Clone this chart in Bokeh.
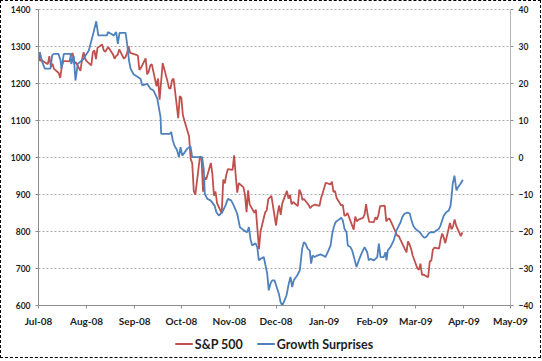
import pandas as pd
from bokeh.plotting import figure
from bokeh.layouts import column
from bokeh.models import (Range1d, LinearAxis, FixedTicker, DatetimeTickFormatter,
                          Legend, LegendItem, ColumnDataSource)
from bokeh.embed import file_html
from bokeh.resources import INLINE

# ---------------- data ----------------
month_ticks = ["2008-07-01", "2008-08-01", "2008-09-01", "2008-10-01", "2008-11-01",
               "2008-12-01", "2009-01-01", "2009-02-01", "2009-03-01", "2009-04-01",
               "2009-05-01"]
left_ticks = [600, 700, 800, 900, 1000, 1100, 1200, 1300, 1400]
right_ticks = [-40, -30, -20, -10, 0, 10, 20, 30, 40]
series_names = ["S&P 500", "Growth Surprises"]

sp_dates = [
    "2008-07-01", "2008-07-02", "2008-07-03", "2008-07-07", "2008-07-08", "2008-07-09", "2008-07-10",
    "2008-07-11", "2008-07-14", "2008-07-15", "2008-07-16", "2008-07-17", "2008-07-18", "2008-07-21",
    "2008-07-22", "2008-07-23", "2008-07-24", "2008-07-25", "2008-07-28", "2008-07-29", "2008-07-30",
    "2008-07-31",
    "2008-08-01", "2008-08-04", "2008-08-05", "2008-08-06", "2008-08-07", "2008-08-08", "2008-08-11",
    "2008-08-12", "2008-08-13", "2008-08-14", "2008-08-15", "2008-08-18", "2008-08-19", "2008-08-20",
    "2008-08-21", "2008-08-22", "2008-08-25", "2008-08-26", "2008-08-27", "2008-08-28", "2008-08-29",
    "2008-09-02", "2008-09-03", "2008-09-04", "2008-09-05", "2008-09-08", "2008-09-09", "2008-09-10",
    "2008-09-11", "2008-09-12", "2008-09-15", "2008-09-16", "2008-09-17", "2008-09-18", "2008-09-19",
    "2008-09-22", "2008-09-23", "2008-09-24", "2008-09-25", "2008-09-26", "2008-09-29", "2008-09-30",
    "2008-10-01", "2008-10-02", "2008-10-03", "2008-10-06", "2008-10-07", "2008-10-08", "2008-10-09",
    "2008-10-10", "2008-10-13", "2008-10-14", "2008-10-15", "2008-10-16", "2008-10-17", "2008-10-20",
    "2008-10-21", "2008-10-22", "2008-10-23", "2008-10-24", "2008-10-27", "2008-10-28", "2008-10-29",
    "2008-10-30", "2008-10-31",
    "2008-11-03", "2008-11-04", "2008-11-05", "2008-11-06", "2008-11-07", "2008-11-10", "2008-11-11",
    "2008-11-12", "2008-11-13", "2008-11-14", "2008-11-17", "2008-11-18", "2008-11-19", "2008-11-20",
    "2008-11-21", "2008-11-24", "2008-11-25", "2008-11-26", "2008-11-28",
    "2008-12-01", "2008-12-02", "2008-12-03", "2008-12-04", "2008-12-05", "2008-12-08", "2008-12-09",
    "2008-12-10", "2008-12-11", "2008-12-12", "2008-12-15", "2008-12-16", "2008-12-17", "2008-12-18",
    "2008-12-19", "2008-12-22", "2008-12-23", "2008-12-24", "2008-12-26", "2008-12-29", "2008-12-30",
    "2008-12-31",
    "2009-01-02", "2009-01-05", "2009-01-06", "2009-01-07", "2009-01-08", "2009-01-09", "2009-01-12",
    "2009-01-13", "2009-01-14", "2009-01-15", "2009-01-16", "2009-01-20", "2009-01-21", "2009-01-22",
    "2009-01-23", "2009-01-26", "2009-01-27", "2009-01-28", "2009-01-29", "2009-01-30",
    "2009-02-02", "2009-02-03", "2009-02-04", "2009-02-05", "2009-02-06", "2009-02-09", "2009-02-10",
    "2009-02-11", "2009-02-12", "2009-02-13", "2009-02-17", "2009-02-18", "2009-02-19", "2009-02-20",
    "2009-02-23", "2009-02-24", "2009-02-25", "2009-02-26", "2009-02-27",
    "2009-03-02", "2009-03-03", "2009-03-04", "2009-03-05", "2009-03-06", "2009-03-09", "2009-03-10",
    "2009-03-11", "2009-03-12", "2009-03-13", "2009-03-16", "2009-03-17", "2009-03-18", "2009-03-19",
    "2009-03-20", "2009-03-23", "2009-03-24", "2009-03-25", "2009-03-26", "2009-03-27", "2009-03-30",
    "2009-03-31",
]
sp_close = [
    1284.91, 1261.52, 1262.90, 1252.31, 1273.70, 1244.69, 1253.39, 1239.49, 1228.30, 1214.91, 1245.36,
    1260.32, 1260.68, 1260.00, 1277.00, 1282.19, 1252.54, 1257.76, 1234.37, 1263.20, 1284.26, 1267.38,
    1260.31, 1249.01, 1284.88, 1289.19, 1266.07, 1296.32, 1305.32, 1289.59, 1285.83, 1292.93, 1298.20,
    1278.60, 1266.69, 1274.54, 1277.72, 1292.20, 1266.84, 1271.51, 1281.66, 1300.68, 1282.83,
    1277.58, 1274.98, 1236.83, 1242.31, 1267.79, 1224.51, 1232.04, 1249.05, 1251.70, 1192.70, 1213.60,
    1156.39, 1206.51, 1255.08, 1207.09, 1188.22, 1185.87, 1209.18, 1213.27, 1106.42, 1166.36,
    1161.06, 1114.28, 1099.23, 1056.89, 996.23, 984.94, 909.92, 899.22, 1003.35, 998.01, 907.84,
    946.43, 940.55, 985.40, 955.05, 896.78, 908.11, 876.77, 848.92, 940.51, 930.09, 954.09, 968.75,
    966.30, 1005.75, 952.77, 904.88, 930.99, 919.21, 898.95, 852.30, 911.29, 873.29, 850.75, 859.12,
    806.58, 752.44, 800.03, 851.81, 857.39, 887.68, 896.24,
    816.21, 848.81, 870.74, 845.22, 876.07, 909.70, 888.67, 899.24, 873.59, 879.73, 868.57, 913.18,
    904.42, 885.28, 887.88, 871.63, 863.16, 868.15, 872.80, 869.42, 890.64, 903.25,
    931.80, 927.45, 934.70, 906.65, 909.73, 890.35, 870.26, 871.79, 842.62, 843.74, 850.12, 805.22,
    840.24, 827.50, 831.95, 836.57, 845.71, 874.09, 845.14, 825.88,
    825.44, 838.51, 832.23, 845.85, 868.60, 869.89, 827.16, 833.74, 835.19, 826.84, 789.17, 788.42,
    778.94, 770.05, 743.33, 773.14, 764.90, 752.83, 735.09,
    700.82, 696.33, 712.87, 682.55, 683.38, 676.53, 719.60, 721.36, 750.74, 756.55, 753.89, 778.12,
    794.35, 784.04, 768.54, 822.92, 806.12, 813.88, 832.86, 815.94, 787.53, 797.87,
]

# Growth Surprises: days elapsed since 2008-07-01, and index value (right axis)
gs_start = "2008-07-01"
gs_day = [
    0.8, 2.4, 4.1, 7.7, 8.8, 9.9, 12.9, 14.2, 14.8, 16.3, 20.6, 21.1, 22.7, 23.8, 25.3, 29.2, 30.3,
    32.4, 33.5, 35.2, 37.2, 38.5, 44.2, 44.6, 48.5, 50.0, 51.1, 52.2, 56.1, 57.3, 58.3, 59.3, 61.2,
    65.7, 66.8, 70.0, 72.1, 74.1, 76.5, 78.6, 79.0, 84.6, 85.5, 86.5, 87.6, 89.3, 90.4, 91.5, 92.6,
    95.8, 97.9, 99.0, 105.4, 106.5, 107.1, 108.7, 110.8, 113.4, 114.6, 116.1, 118.3, 120.4, 121.9,
    124.1, 125.8, 128.0, 129.7, 132.2, 134.4, 135.5, 136.5, 137.6, 139.8, 140.9, 141.9, 143.0, 145.1,
    147.3, 148.3, 149.4, 150.5, 152.0, 154.8, 155.9, 157.0, 158.0, 159.7, 161.2, 162.3, 163.4, 164.4,
    166.6, 168.3, 169.8, 170.9, 172.0, 173.4, 174.7, 175.6, 176.5, 177.8, 179.5, 181.6, 183.4, 184.8,
    186.3, 188.1, 189.2, 190.2, 191.3, 193.4, 195.0, 196.0, 197.1, 198.4, 199.2, 200.9, 202.0, 203.5,
    204.8, 206.3, 208.0, 210.0, 211.7, 212.7, 213.8, 216.0, 218.2, 219.2, 220.3, 222.4, 223.5, 224.1,
    225.0, 226.7, 228.8, 230.6, 232.1, 233.2, 234.3, 235.7, 237.5, 239.1, 240.0, 241.3, 242.8, 245.6,
    247.1, 248.6, 249.9, 251.4, 252.5, 254.6, 256.3, 257.8, 258.9, 260.0, 261.0, 262.6, 264.3, 265.4,
    266.0, 266.8, 267.9, 269.2, 270.3, 271.8, 273.3,
]
gs_value = [
    28.5, 25.8, 24.0, 24.0, 27.6, 28.0, 28.0, 26.2, 24.0, 28.0, 28.0, 25.3, 27.5, 20.8, 25.3, 26.7, 27.6,
    28.9, 30.7, 33.4, 36.8, 33.0, 33.0, 33.9, 33.0, 33.9, 30.7, 33.7, 33.7, 30.0, 26.2, 24.0, 22.5,
    21.3, 19.5, 19.9, 18.6, 18.1, 15.9, 10.9, 6.4, 6.4, 6.9, 4.6, 3.2, 1.9, 0.1, 2.8, 0.5,
    2.4, 3.0, 0.1, 0.1, -3.5, -9.8, -11.2, -11.6, -13.0, -14.8, -15.7, -14.8, -13.0, -11.2,
    -11.6, -13.0, -15.2, -18.8, -19.7, -20.2, -18.8, -22.0, -23.8, -23.2, -24.2, -27.8, -27.4, -26.9,
    -31.4, -35.9, -34.1, -33.2, -33.2, -36.8, -39.1, -40.0, -39.1, -37.3, -34.1, -32.3, -35.0, -33.2,
    -31.9, -30.5, -24.7, -22.9, -23.3, -24.7, -25.1, -28.7, -26.5, -26.9, -26.5, -26.2, -26.5, -26.9,
    -25.6, -23.8, -20.6, -18.8, -17.5, -16.8, -16.3, -17.0, -19.3, -20.2, -23.8, -24.2, -25.1, -27.4,
    -29.6, -27.8, -26.0, -24.2, -25.6, -27.8, -27.4, -27.8, -26.9, -23.3, -26.9, -26.9, -25.6, -27.8,
    -25.1, -24.2, -22.4, -19.7, -18.4, -17.5, -16.1, -15.2, -14.9, -15.1, -16.6, -18.4, -19.3, -20.2,
    -21.1, -21.7, -21.4, -20.5, -20.2, -20.2, -19.7, -19.3, -18.4, -17.0, -15.7, -14.8, -14.3, -13.0,
    -10.7, -7.1, -4.9, -8.9, -8.0, -7.1, -6.0,
]
n = min(len(gs_day), len(gs_value))

sp_src = ColumnDataSource(dict(x=pd.to_datetime(sp_dates), y=sp_close))
gs_src = ColumnDataSource(dict(
    x=pd.Timestamp(gs_start) + pd.to_timedelta(gs_day[:n], unit="D"),
    y=gs_value[:n]))

# ---------------- styling ----------------
FONT = "Lato"
TXT = "#1e1e1e"
AX = "#8c8c8c"
GRID = "#ababab"
RED = "#C0504D"
BLUE = "#4F81BD"
W = 539

p = figure(width=W, height=329, x_axis_type="datetime",
           x_range=Range1d(pd.Timestamp(month_ticks[0]), pd.Timestamp(month_ticks[-1])),
           y_range=Range1d(left_ticks[0], left_ticks[-1]),
           output_backend="svg", toolbar_location=None,
           min_border_left=37, min_border_right=30, min_border_top=8, min_border_bottom=25,
           background_fill_color="white", border_fill_color="white")
p.extra_y_ranges = {"gs": Range1d(right_ticks[0], right_ticks[-1])}

p.outline_line_color = GRID
p.outline_line_dash = "2 2"
p.xgrid.visible = False
p.ygrid.grid_line_color = GRID
p.ygrid.grid_line_dash = "2 2"
p.ygrid.grid_line_width = 1

# x axis
xa = p.xaxis[0]
xa.ticker = FixedTicker(ticks=[pd.Timestamp(t).value / 1e6 for t in month_ticks])
fmt = "%b-%y"
xa.formatter = DatetimeTickFormatter(microseconds=fmt, milliseconds=fmt, seconds=fmt, minsec=fmt,
                                     minutes=fmt, hourmin=fmt, hours=fmt, days=fmt, months=fmt,
                                     years=fmt)
xa.axis_line_color = AX
xa.major_tick_line_color = AX
xa.major_tick_out = 3
xa.major_tick_in = 0
xa.minor_tick_line_color = None
xa.major_label_standoff = 6
xa.major_label_text_font = FONT
xa.major_label_text_font_style = "bold"
xa.major_label_text_font_size = "10px"
xa.major_label_text_color = TXT

# left axis
ya = p.yaxis[0]
ya.ticker = FixedTicker(ticks=left_ticks)
ya.axis_line_color = AX
ya.major_tick_line_color = AX
ya.major_tick_out = 3
ya.major_tick_in = 0
ya.minor_tick_line_color = None
ya.major_label_standoff = 5
ya.major_label_text_font = FONT
ya.major_label_text_font_style = "bold"
ya.major_label_text_font_size = "8.5px"
ya.major_label_text_color = TXT

# right axis
ra = LinearAxis(y_range_name="gs", ticker=FixedTicker(ticks=right_ticks))
ra.axis_line_color = GRID
ra.axis_line_dash = "2 2"
ra.major_tick_line_color = AX
ra.major_tick_out = 3
ra.major_tick_in = 0
ra.minor_tick_line_color = None
ra.major_label_standoff = 5
ra.major_label_text_font = FONT
ra.major_label_text_font_style = "bold"
ra.major_label_text_font_size = "8.5px"
ra.major_label_text_color = TXT
p.add_layout(ra, "right")

p.line(x="x", y="y", source=sp_src, line_color=RED, line_width=1.8)
p.line(x="x", y="y", source=gs_src, y_range_name="gs", line_color=BLUE, line_width=1.8)

# ---------------- legend strip ----------------
# the same two series are attached here only to supply legend keys (they lie outside this
# strip's ranges, so only the legend entries are visible)
lg = figure(width=W, height=27, x_range=Range1d(0, 1), y_range=Range1d(0, 1),
            output_backend="svg", toolbar_location=None,
            min_border_left=0, min_border_right=0, min_border_top=0, min_border_bottom=0,
            background_fill_color="white", border_fill_color="white")
lg.axis.visible = False
lg.grid.visible = False
lg.outline_line_color = None
k_sp = lg.line(x="x", y="y", source=sp_src, line_color=RED, line_width=1.8)
k_gs = lg.line(x="x", y="y", source=gs_src, line_color=BLUE, line_width=1.8)
legend = Legend(items=[LegendItem(label=series_names[0], renderers=[k_sp]),
                       LegendItem(label=series_names[1], renderers=[k_gs])],
                orientation="horizontal", location="center",
                border_line_color=None, background_fill_alpha=0,
                label_text_font=FONT, label_text_font_style="bold",
                label_text_font_size="12.5px", label_text_color=TXT,
                glyph_width=18, glyph_height=12, label_standoff=2, spacing=14,
                padding=2, margin=0)
lg.add_layout(legend, "center")

layout = column(p, lg, spacing=0)
layout.styles = {"margin-left": "1px", "margin-top": "1px",
                 "outline": "1px dashed #000000"}

open("out.html", "w").write(file_html(layout, INLINE))
